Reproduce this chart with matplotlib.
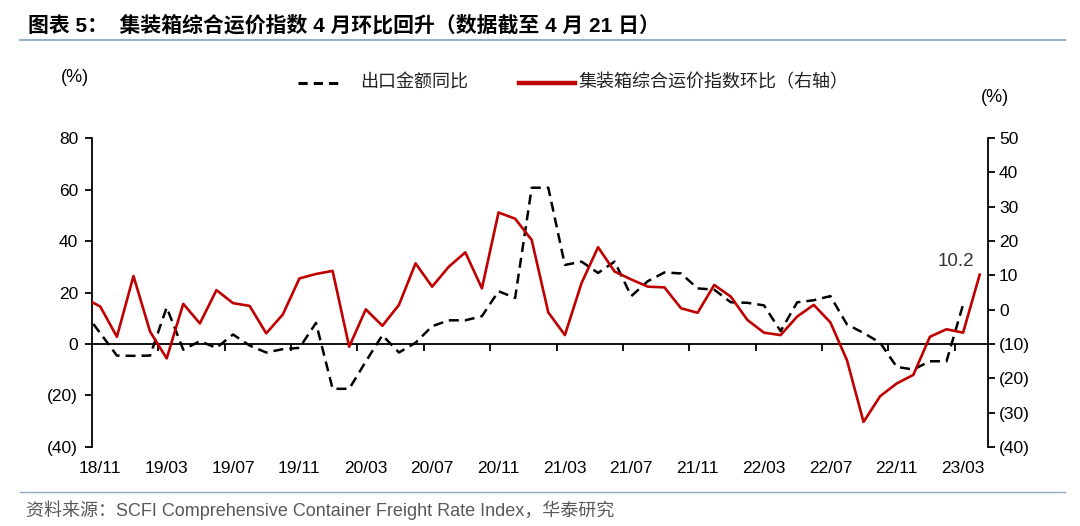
import numpy as np
import pandas as pd
import matplotlib
matplotlib.use("Agg")
import matplotlib.pyplot as plt
from matplotlib.lines import Line2D
from matplotlib.ticker import FuncFormatter
from matplotlib.transforms import blended_transform_factory

plt.rcParams['font.family'] = ['Liberation Sans', 'Noto Sans CJK SC', 'DejaVu Sans']

# ---------- data (monthly 2018/10 - 2023/04) ----------
months = pd.period_range('2018-10', '2023-04', freq='M')

# export value YoY (%) -> left axis, last value 2023/03
export_yoy = [12.7, 4.2, -4.5, -4.6, -4.5, 14.2, -2.2, 1.1, -1.5, 3.7,
              -0.6, -3.3, -2.0, -1.5, 8.2, -17.4, -17.4, -6.8, 3.4, -3.3,
              0.5, 6.9, 9.2, 9.2, 10.8, 20.5, 17.9, 60.7, 60.7, 30.7,
              32.0, 27.6, 32.0, 18.6, 24.4, 27.8, 27.4, 21.6, 21.1, 16.2,
              16.0, 15.0, 5.0, 16.2, 17.0, 18.6, 7.6, 4.3, 0.5, -8.9,
              -9.9, -6.7, -6.7, 15.3]

# SCFI composite index MoM (%) -> right axis, last value 2023/04
scfi_mom = [3.5, 0.9, -7.9, 9.8, -6.4, -14.2, 1.7, -4.0, 5.7, 1.9,
            1.1, -6.9, -1.4, 9.1, 10.4, 11.3, -10.8, 0.1, -4.7, 1.4,
            13.5, 6.7, 12.5, 16.7, 6.2, 28.3, 26.5, 20.3, -0.8, -7.4,
            7.7, 18.2, 11.1, 8.8, 6.7, 6.5, 0.4, -0.9, 7.2, 3.8,
            -3.0, -6.7, -7.4, -2.0, 1.4, -3.7, -14.7, -32.7, -25.2, -21.5,
            -19.0, -7.9, -5.7, -6.7, 10.2]

tick_labels = ['18/11', '19/03', '19/07', '19/11', '20/03', '20/07', '20/11',
               '21/03', '21/07', '21/11', '22/03', '22/07', '22/11', '23/03']

x_all = np.arange(len(months)) - 1          # 18/10 sits just left of the axis
x_exp = x_all[:len(export_yoy)]
label_pos = [list(months.strftime('%y/%m')).index(t) - 1 for t in tick_labels]

RED = '#C00000'

# ---------- figure ----------
fig = plt.figure(figsize=(10.8, 5.26), dpi=100)
ax = fig.add_axes([0.0852, 0.1502, 0.8296, 0.5874])
ax2 = ax.twinx()

ax.plot(x_exp, export_yoy, color='black', lw=1.8, dashes=(4, 2.4), zorder=2)
ax2.plot(x_all, scfi_mom, color=RED, lw=1.9, zorder=3)

ax.set_xlim(-0.5, 53.5)
ax.set_ylim(-40, 80)
ax2.set_ylim(-40, 50)

paren = FuncFormatter(lambda v, p: f'({abs(int(v))})' if v < 0 else f'{int(v)}')
ax.set_yticks(np.arange(-40, 81, 20))
ax2.set_yticks(np.arange(-40, 51, 10))
ax.yaxis.set_major_formatter(paren)
ax2.yaxis.set_major_formatter(paren)

for s in ['top', 'right']:
    ax.spines[s].set_visible(False)
for s in ['top', 'bottom', 'left']:
    ax2.spines[s].set_visible(False)
ax.spines['bottom'].set_position(('data', 0))
for sp in [ax.spines['left'], ax.spines['bottom'], ax2.spines['right']]:
    sp.set_linewidth(1.3)

ax.set_xticks(np.arange(3.5, 53, 4))
ax.tick_params(axis='x', direction='out', length=5, width=1.3, labelbottom=False)
ax.tick_params(axis='y', direction='out', length=5, width=1.3, labelsize=12.5, pad=5)
ax2.tick_params(axis='y', direction='out', length=5, width=1.3, labelsize=12.5, pad=3)

trans = blended_transform_factory(ax.transData, ax.transAxes)
for pos, lab in zip(label_pos, tick_labels):
    ax.text(pos, -0.068, lab, transform=trans, ha='center', va='center', fontsize=12.5)

ax2.text(52.7, 13.9, '10.2', ha='right', va='center', fontsize=13.5, color='#333333')

# units
fig.text(75 / 1080, 1 - 78 / 526, '(%)', ha='center', va='center', fontsize=13)
fig.text(995 / 1080, 1 - 97 / 526, '(%)', ha='center', va='center', fontsize=13)

# legend
ly = 1 - 83 / 526
fig.add_artist(Line2D([298 / 1080, 343 / 1080], [ly, ly], color='black', lw=2.2,
                      dashes=(3, 2), transform=fig.transFigure))
fig.text(360 / 1080, ly, '出口金额同比', ha='left', va='center', fontsize=13,
         color='#222222')
fig.add_artist(Line2D([519 / 1080, 575 / 1080], [ly, ly], color=RED, lw=3.2,
                      transform=fig.transFigure))
fig.text(578 / 1080, ly, '集装箱综合运价指数环比（右轴）', ha='left', va='center',
         fontsize=13, color='#222222')

# title and frame lines
fig.text(28 / 1080, 1 - 25 / 526, '图表 5：  集装箱综合运价指数 4 月环比回升（数据截至 4 月 21 日）',
         ha='left', va='center', fontsize=15, fontweight='bold')
fig.add_artist(Line2D([20 / 1080, 1065 / 1080], [1 - 40 / 526, 1 - 40 / 526],
                      color='#8EA6C4', lw=1.3, transform=fig.transFigure))
fig.add_artist(Line2D([20 / 1080, 1065 / 1080], [1 - 492 / 526, 1 - 492 / 526],
                      color='#8EA6C4', lw=1.0, transform=fig.transFigure))
fig.text(26 / 1080, 1 - 510 / 526,
         '资料来源：SCFI Comprehensive Container Freight Rate Index，华泰研究',
         ha='left', va='center', fontsize=13, color='#595959')

fig.savefig('out.png', dpi=100)
